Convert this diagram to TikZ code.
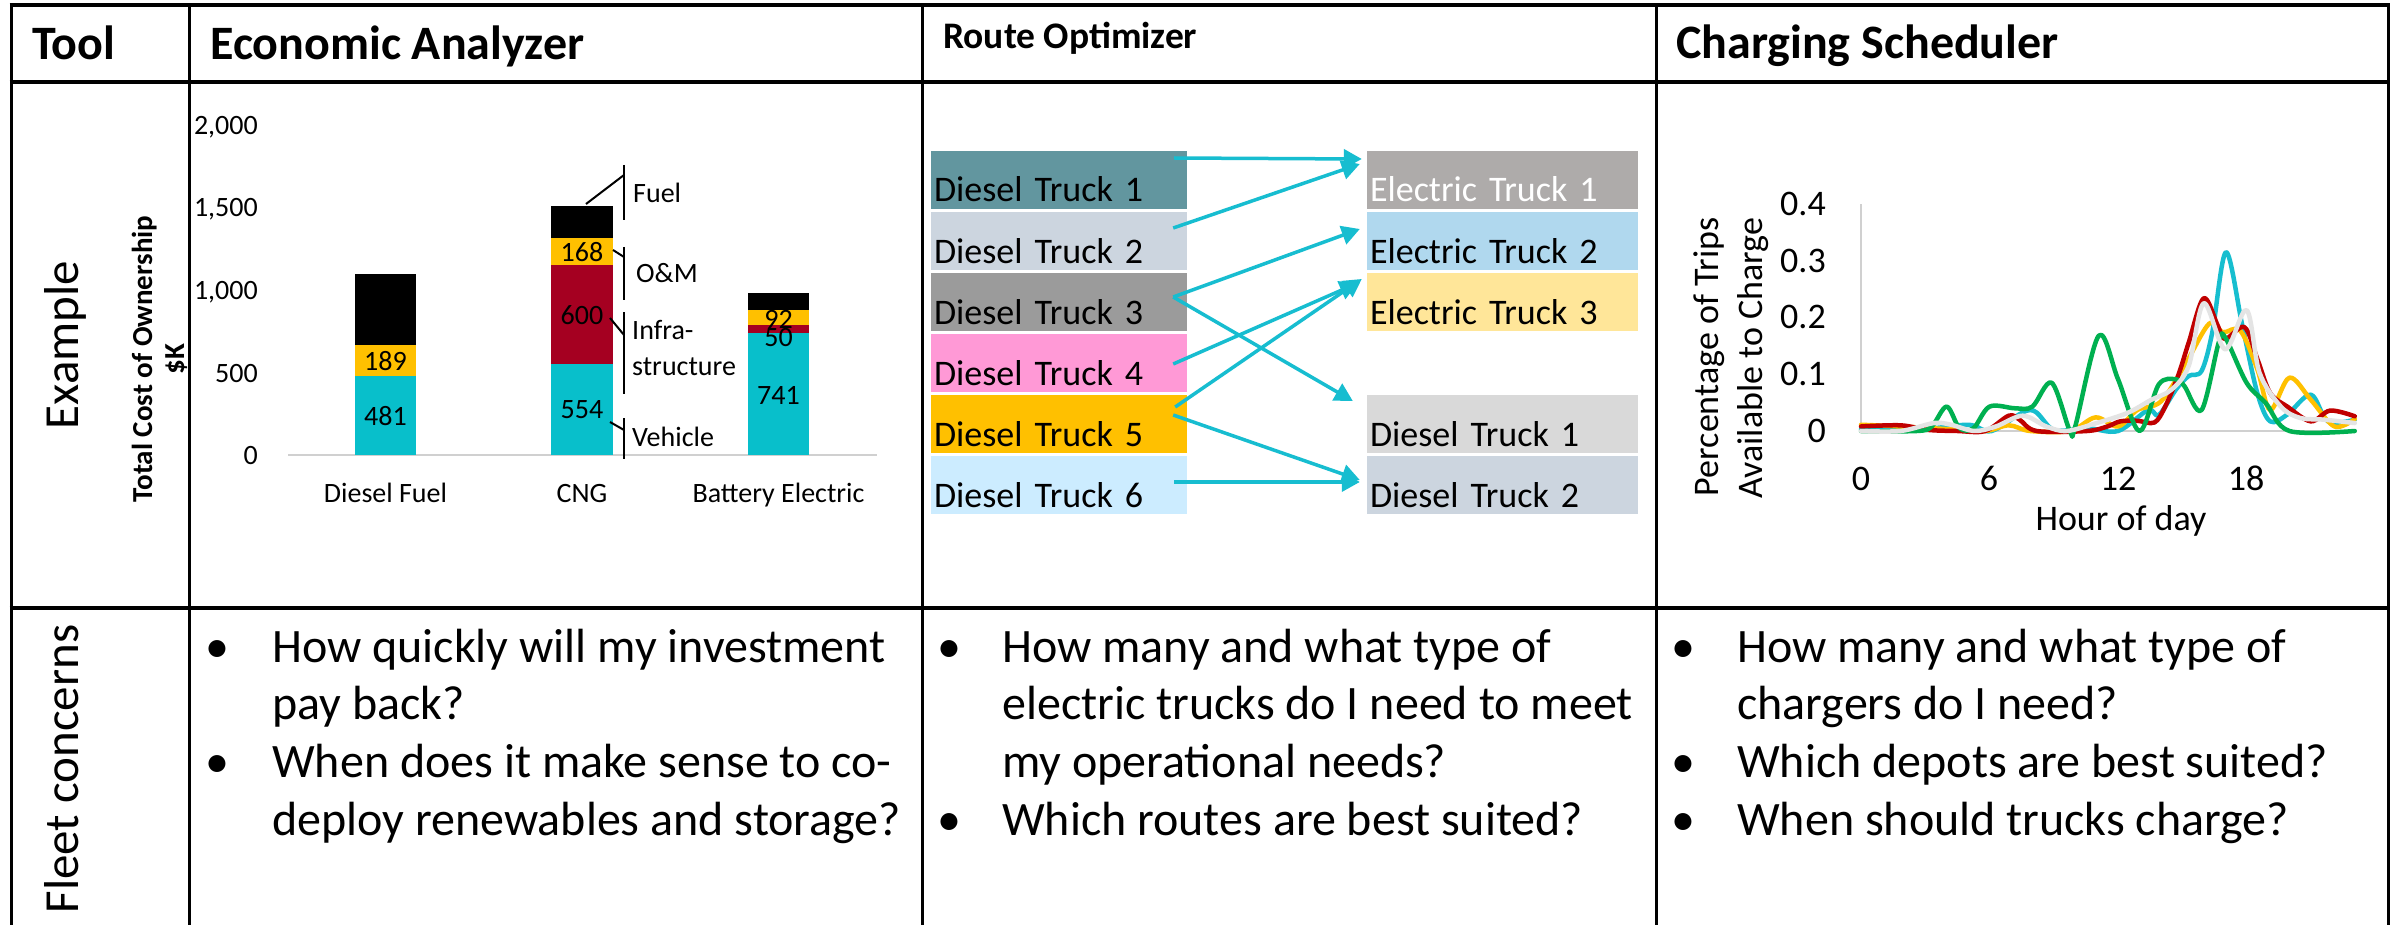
\documentclass[tikz,border=0pt]{standalone}
\usepackage{fontspec}
\setmainfont{Carlito}
\usetikzlibrary{arrows.meta}

\newcommand\setfs[1]{\fontsize{#1pt}{#1pt}\selectfont}

% table and chart colours
\definecolor{barcyan}{HTML}{08BFCB}
\definecolor{barorange}{HTML}{FFC000}
\definecolor{barred}{HTML}{A50021}
\definecolor{axisgray}{HTML}{D0D0D0}
\definecolor{arrowcyan}{HTML}{17BDD0}
\definecolor{dtA}{HTML}{62969F}
\definecolor{dtB}{HTML}{CCD5DF}
\definecolor{dtC}{HTML}{9B9B9B}
\definecolor{dtD}{HTML}{FF99D6}
\definecolor{dtE}{HTML}{FFC000}
\definecolor{dtF}{HTML}{CCECFF}
\definecolor{etA}{HTML}{AEABAA}
\definecolor{etB}{HTML}{B0D8EE}
\definecolor{etC}{HTML}{FFE699}
\definecolor{rdA}{HTML}{D9D9D9}
\definecolor{rdB}{HTML}{CCD5DF}
\definecolor{lnCyan}{HTML}{17BECF}
\definecolor{lnRed}{HTML}{C00000}
\definecolor{lnYellow}{HTML}{FFC000}
\definecolor{lnGreen}{HTML}{00B050}
\definecolor{lnGray}{HTML}{E4E4E4}

\tikzset{
  hline/.style={line width=3.5pt},
  vline/.style={line width=3pt},
  hdr/.style={font=\setfs{48}\bfseries, anchor=base west, inner sep=0pt},
  rowlab/.style={font=\setfs{49}, rotate=90, anchor=base, inner sep=0pt},
  ticklab/.style={font=\setfs{28}, inner sep=0pt},
  barlab/.style={font=\setfs{28}, inner sep=0pt, anchor=center},
  calltext/.style={font=\setfs{28}, inner sep=0pt, anchor=base west},
  callline/.style={line width=2pt, black},
  axtitle/.style={font=\setfs{29}\bfseries, rotate=90, anchor=base, inner sep=0pt},
  truckbox/.style={inner xsep=3pt, inner ysep=0pt, text height=51pt, text depth=7pt,
                   align=left, font=\setfs{36}},
  leftbox/.style={truckbox, text width=250pt},
  rightbox/.style={truckbox, text width=265pt},
  conn/.style={draw=arrowcyan, line width=3.5pt, -{Triangle[length=18pt,width=19pt]}},
  chlab/.style={font=\setfs{36}, inner sep=0pt},
  curve/.style={line width=4.5pt, line join=round, line cap=round},
  bul/.style={font=\setfs{48}, anchor=base, inner sep=0pt},
  btext/.style={font=\setfs{48}, anchor=base west, inner sep=0pt},
}

\begin{document}
\begin{tikzpicture}[x=1pt, y=-1pt]
\useasboundingbox (0,0) rectangle (2397,925);
\fill[white] (0,0) rectangle (2397,925);

% ---------- table grid ----------
\draw[hline] (9.5,5) -- (2389.5,5);
\draw[hline] (9.5,82) -- (2389.5,82);
\draw[hline] (9.5,608) -- (2389.5,608);
\foreach \cx in {11,189,922,1656,2388}
  \draw[vline] (\cx,5) -- (\cx,925);

% ---------- header row ----------
\node[hdr] (hTool) at (32,60) {Tool};
\node[hdr] (hEcon) at (210,60) {Economic Analyzer};
\node[hdr, font=\setfs{37.5}\bfseries] (hRoute) at (943,49) {Route Optimizer};
\node[hdr] (hCharge) at (1676,59) {Charging Scheduler};

% ---------- row labels ----------
\node[rowlab] (rExample) at (78,345) {Example};
\node[rowlab] (rFleet) at (78,769) {Fleet concerns};

% ---------- economic analyzer: stacked bars ----------
\draw[axisgray, line width=2pt] (288,455) -- (877,455);
\begin{scope}[shift={(0,455)}, y=0.1645pt]
  % Diesel Fuel
  \fill[barcyan]   (355,0)    rectangle (416,481);
  \fill[barorange] (355,481)  rectangle (416,670);
  \fill[black]     (355,670)  rectangle (416,1103);
  % CNG
  \fill[barcyan]   (551,0)    rectangle (613,554);
  \fill[barred]    (551,554)  rectangle (613,1154);
  \fill[barorange] (551,1154) rectangle (613,1322);
  \fill[black]     (551,1322) rectangle (613,1515);
  % Battery Electric
  \fill[barcyan]   (748,0)    rectangle (809,741);
  \fill[barred]    (748,741)  rectangle (809,791);
  \fill[barorange] (748,791)  rectangle (809,883);
  \fill[black]     (748,883)  rectangle (809,985);
\end{scope}

% value axis labels
\node[ticklab, anchor=base east] (y2000) at (258,135) {2,000};
\node[ticklab, anchor=base east] (y1500) at (258,217) {1,500};
\node[ticklab, anchor=base east] (y1000) at (258,299.5) {1,000};
\node[ticklab, anchor=base east] (y500)  at (258,382) {500};
\node[ticklab, anchor=base east] (y0)    at (258,464) {0};

% axis title
\node[axtitle] (tcoA) at (152,359) {Total Cost of Ownership};
\node[axtitle] (tcoB) at (184,359) {\$K};

% segment values
\node[barlab] (v481) at (385.5,416) {481};
\node[barlab] (v189) at (385.5,361) {189};
\node[barlab] (v554) at (582,410) {554};
\node[barlab] (v600) at (582,315) {600};
\node[barlab] (v168) at (582,252) {168};
\node[barlab] (v741) at (778.5,395) {741};
\node[barlab] (v50)  at (778.5,338) {50};
\node[barlab] (v92)  at (778.5,319) {92};

% category labels
\node[ticklab, anchor=base] (cDiesel) at (385.5,502) {Diesel Fuel};
\node[ticklab, anchor=base] (cCNG) at (582,502) {CNG};
\node[ticklab, anchor=base] (cBEV) at (778.5,502) {Battery Electric};

% callouts on the CNG bar
\draw[callline] (586,204) -- (624,175);
\draw[callline] (624,165) -- (624,220);
\node[calltext] (kFuel) at (633,203) {Fuel};
\draw[callline] (613,250) -- (624,257);
\draw[callline] (624,247) -- (624,300);
\node[calltext] (kOM) at (636,283) {O\&M};
\draw[callline] (610,318) -- (624,335);
\draw[callline] (624,312) -- (624,394);
\node[calltext] (kInfA) at (632,339) {Infra-};
\node[calltext] (kInfB) at (632,375) {structure};
\draw[callline] (610,422) -- (624,430);
\draw[callline] (624,418) -- (624,459);
\node[calltext] (kVeh) at (632,446) {Vehicle};

% ---------- route optimizer ----------
\node[leftbox, fill=dtA] (dt1) at (1059,180) {Diesel Truck 1};
\node[leftbox, fill=dtB] (dt2) at (1059,241) {Diesel Truck 2};
\node[leftbox, fill=dtC] (dt3) at (1059,302) {Diesel Truck 3};
\node[leftbox, fill=dtD] (dt4) at (1059,363) {Diesel Truck 4};
\node[leftbox, fill=dtE] (dt5) at (1059,424) {Diesel Truck 5};
\node[leftbox, fill=dtF] (dt6) at (1059,485) {Diesel Truck 6};

\node[rightbox, fill=etA, text=white] (et1) at (1502.5,180) {Electric Truck 1};
\node[rightbox, fill=etB] (et2) at (1502.5,241) {Electric Truck 2};
\node[rightbox, fill=etC] (et3) at (1502.5,302) {Electric Truck 3};
\node[rightbox, fill=rdA] (rd1) at (1502.5,424) {Diesel Truck 1};
\node[rightbox, fill=rdB] (rd2) at (1502.5,485) {Diesel Truck 2};

\draw[conn] ([xshift=-13pt,yshift=22pt]dt1.east) -- ([xshift=-5pt,yshift=21pt]et1.west);
\draw[conn] ([xshift=-14pt,yshift=13pt]dt2.east) -- ([xshift=-7pt,yshift=16pt]et1.west);
\draw[conn] ([xshift=-14pt,yshift=5pt]dt3.east)  -- ([xshift=-7pt,yshift=12pt]et2.west);
\draw[conn] ([xshift=-14pt,yshift=5pt]dt3.east)  -- ([xshift=-14pt,yshift=23pt]rd1.west);
\draw[conn] ([xshift=-14pt,yshift=-1pt]dt4.east) -- ([xshift=-9pt,yshift=19pt]et3.west);
\draw[conn] ([xshift=-12pt,yshift=17pt]dt5.east) -- ([xshift=-5pt,yshift=23pt]et3.west);
\draw[conn] ([xshift=-14pt,yshift=9pt]dt5.east)  -- ([xshift=-7pt,yshift=5pt]rd2.west);
\draw[conn] ([xshift=-13pt,yshift=3pt]dt6.east)  -- ([xshift=-7pt,yshift=3pt]rd2.west);

% ---------- charging scheduler ----------
\node[chlab, anchor=base east] (q4) at (1826,215.4) {0.4};
\node[chlab, anchor=base east] (q3) at (1826,272.2) {0.3};
\node[chlab, anchor=base east] (q2) at (1826,328.9) {0.2};
\node[chlab, anchor=base east] (q1) at (1826,385.7) {0.1};
\node[chlab, anchor=base east] (q0) at (1826,442.4) {0};
\node[chlab, anchor=base] (h0)  at (1861,490) {0};
\node[chlab, anchor=base] (h6)  at (1989,490) {6};
\node[chlab, anchor=base] (h12) at (2118,490) {12};
\node[chlab, anchor=base] (h18) at (2246,490) {18};
\node[chlab, anchor=base] (hTitle) at (2121,530) {Hour of day};
\node[chlab, rotate=90, anchor=base] (pA) at (1718,357) {Percentage of Trips};
\node[chlab, rotate=90, anchor=base] (pB) at (1762,358) {Available to Charge};

\begin{scope}[shift={(1861,431)}, x=21.42pt, y=567.5pt]
  \draw[axisgray, line width=2pt] (0,0.4) -- (0,0) -- (23.05,0);
  \draw[curve, lnCyan] plot[smooth, tension=0.55] coordinates {
    (0,0.003) (2.6,0.002) (5.0,0.011) (6.1,0) (7.9,0.037) (9.0,0.002)
    (10.55,0.005) (12.0,0) (13.4,0.037) (13.9,0.028) (14.7,0.073) (15.3,0.097)
    (15.9,0.106) (16.4,0.174) (17.04,0.315) (17.8,0.186) (18.5,0.067) (19.1,0.017)
    (19.9,0.029) (21.0,0.064) (21.8,0.017) (23.05,0.02)};
  \draw[curve, lnYellow] plot[smooth, tension=0.55] coordinates {
    (0,0.011) (1.85,0.008) (4.2,0.003) (5.8,0) (6.9,0.01) (7.9,0) (9.75,0)
    (10.95,0.024) (12.0,0.008) (12.9,0.037) (14.0,0.052) (15.1,0.115) (16.25,0.189)
    (16.9,0.174) (17.7,0.177) (18.5,0.109) (19.1,0.037) (20.0,0.094) (21.0,0.055)
    (22.1,0.008) (23.05,0.021)};
  \draw[curve, lnRed] plot[smooth, tension=0.55] coordinates {
    (0,0.008) (1.85,0.01) (3.1,0.002) (4.5,0) (5.8,0) (6.9,0.027) (7.4,0.02)
    (8.2,0) (10.55,0) (11.5,0.008) (12.1,0.017) (12.9,0.018) (13.7,0.015)
    (14.2,0.043) (14.8,0.097) (15.3,0.156) (16.0,0.234) (16.65,0.186) (17.0,0.162)
    (17.9,0.183) (18.5,0.127) (19.1,0.067) (19.9,0.043) (21.0,0.017) (21.9,0.036)
    (23.05,0.026)};
  \draw[curve, lnGreen] plot[smooth, tension=0.55] coordinates {
    (0,0) (2.6,0) (3.3,0.008) (4.0,0.043) (4.6,0.005) (5.25,0.005) (6.0,0.043)
    (7.2,0.04) (8.0,0.043) (8.9,0.085) (9.75,0) (10.0,0.008) (11.1,0.168)
    (12.0,0.091) (13.0,0) (13.9,0.082) (14.7,0.091) (15.1,0.079) (15.9,0.037)
    (16.7,0.156) (17.0,0.165) (18.0,0.085) (18.9,0.049) (20.0,0) (23.05,0)};
  \draw[curve, lnGray] plot[smooth, tension=0.55] coordinates {
    (0,0) (1.85,0) (3.4,0.014) (4.2,0.011) (5.3,0) (6.3,0.008) (7.55,0.027)
    (8.65,0.008) (9.6,0) (11.0,0.014) (12.45,0.032) (13.55,0.055) (14.5,0.073)
    (15.3,0.115) (16.0,0.225) (17.0,0.144) (18.0,0.213) (18.6,0.103) (19.6,0.043)
    (20.5,0.023) (21.6,0.02) (23.05,0.014)};
\end{scope}

% ---------- fleet concerns ----------
\node[bul] (b1a) at (217,662) {\textbullet};
\node[btext] (t1a) at (272,662) {How quickly will my investment};
\node[btext] (t1b) at (272,719) {pay back?};
\node[bul] (b1c) at (217,777) {\textbullet};
\node[btext] (t1c) at (272,777) {When does it make sense to co-};
\node[btext] (t1d) at (272,835) {deploy renewables and storage?};

\node[bul] (b2a) at (949,662) {\textbullet};
\node[btext] (t2a) at (1002,662) {How many and what type of};
\node[btext] (t2b) at (1002,719) {electric trucks do I need to meet};
\node[btext] (t2c) at (1002,777) {my operational needs?};
\node[bul] (b2d) at (949,835) {\textbullet};
\node[btext] (t2d) at (1002,835) {Which routes are best suited?};

\node[bul] (b3a) at (1683,662) {\textbullet};
\node[btext] (t3a) at (1737,662) {How many and what type of};
\node[btext] (t3b) at (1737,719) {chargers do I need?};
\node[bul] (b3c) at (1683,777) {\textbullet};
\node[btext] (t3c) at (1737,777) {Which depots are best suited?};
\node[bul] (b3d) at (1683,835) {\textbullet};
\node[btext] (t3d) at (1737,835) {When should trucks charge?};
\end{tikzpicture}
\end{document}
